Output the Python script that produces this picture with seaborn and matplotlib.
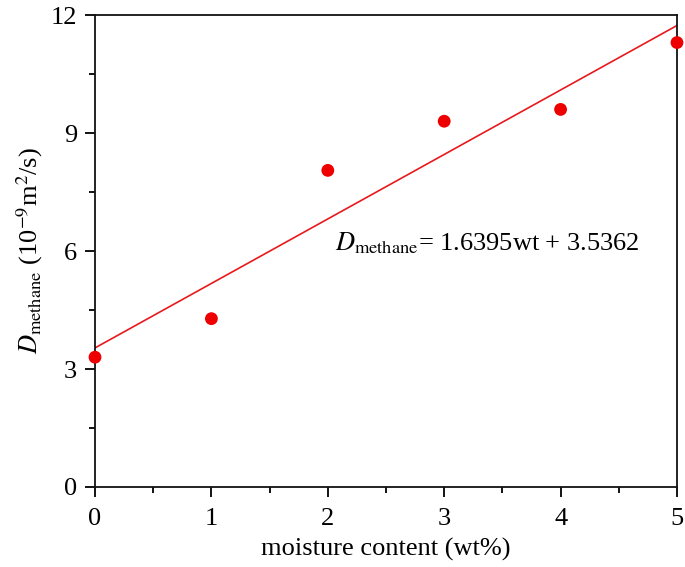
import matplotlib
matplotlib.use("Agg")
import matplotlib.pyplot as plt
import seaborn as sns
import pandas as pd
import numpy as np
from matplotlib.ticker import MultipleLocator

# data
moisture = [0, 1, 2, 3, 4, 5]
d_methane = [3.30, 4.28, 8.05, 9.30, 9.60, 11.30]
slope, intercept = 1.6395, 3.5362

df = pd.DataFrame({'wt': moisture, 'D': d_methane})
fit = pd.DataFrame({'wt': [0, 5]})
fit['D'] = slope * fit['wt'] + intercept

sns.set_style('ticks')
plt.rcParams['font.family'] = ['Liberation Serif', 'DejaVu Serif']
plt.rcParams['mathtext.fontset'] = 'stix'
plt.rcParams['text.color'] = 'black'
plt.rcParams['axes.labelcolor'] = 'black'
plt.rcParams['xtick.color'] = 'black'
plt.rcParams['ytick.color'] = 'black'

fig = plt.figure(figsize=(6.85, 5.67), dpi=100)
ax = fig.add_axes([0.1387, 0.1411, 0.8496, 0.8324])

sns.lineplot(data=fit, x='wt', y='D', color='#e8191c', linewidth=1.2, ax=ax)
sns.scatterplot(data=df, x='wt', y='D', color='#ee0000', s=85, edgecolor='none',
                ax=ax, zorder=5, clip_on=False)

ax.set_xlim(0, 5)
ax.set_ylim(0, 12)
ax.xaxis.set_major_locator(MultipleLocator(1))
ax.xaxis.set_minor_locator(MultipleLocator(0.5))
ax.yaxis.set_major_locator(MultipleLocator(3))
ax.yaxis.set_minor_locator(MultipleLocator(1.5))
ax.tick_params(which='major', length=7, width=1.3, labelsize=19, direction='out', pad=6)
ax.tick_params(axis='x', which='major', pad=8)
ax.tick_params(which='minor', length=4, width=1.3, direction='out')
for s in ax.spines.values():
    s.set_linewidth(1.3)
    s.set_color('#111111')

ax.set_xlabel('moisture content (wt%)', fontsize=19, labelpad=6)
ax.set_ylabel(r'$D_{\mathrm{methane}}$ (10$^{\mathrm{-9}}$m$^{\mathrm{2}}$/s)', fontsize=19, labelpad=4)

ax.text(2.06, 6.2, r'$D_{\mathrm{methane}}$= 1.6395wt + 3.5362', fontsize=19, va='center', ha='left')

fig.savefig('out.png', dpi=100)
